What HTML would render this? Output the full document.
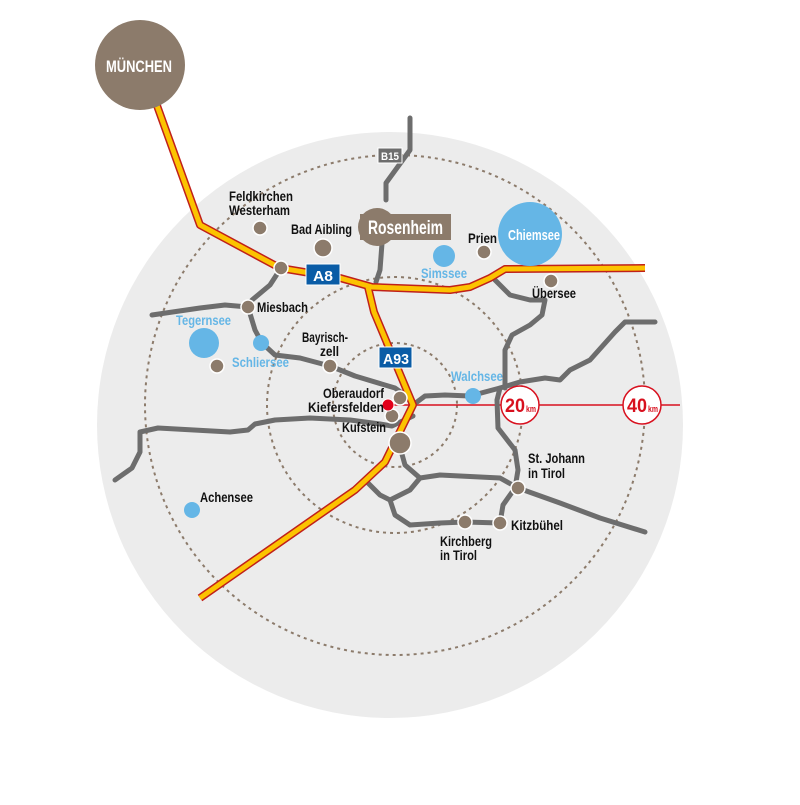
<!DOCTYPE html>
<html><head><meta charset="utf-8"><style>
html,body{margin:0;padding:0;background:#fff;}
svg text{font-family:"Liberation Sans",sans-serif;font-weight:bold;}
</style></head><body>
<svg width="800" height="800" viewBox="0 0 800 800" xmlns="http://www.w3.org/2000/svg">
<circle cx="390" cy="425" r="293" fill="#ececec"/>
<g fill="none" stroke="#8c7b6b" stroke-width="2" stroke-dasharray="3,4">
<circle cx="395" cy="405" r="62"/>
<circle cx="395" cy="405" r="128"/>
<circle cx="395" cy="405" r="250"/>
</g>
<line x1="388" y1="405" x2="680" y2="405" stroke="#d8101e" stroke-width="1.5"/>
<g fill="none" stroke="#6d6d6d" stroke-width="5" stroke-linejoin="round" stroke-linecap="round">
<path d="M410 118 L410 150 L386 183 L386 200"/>
<path d="M383 230 L380 270 L376 282"/>
<path d="M281 268 L270 285 L252 300 L248 307 L255 330 L262 343 L275 355 L300 358 L330 366 L355 376 L395 388 L412 400"/>
<path d="M248 307 L225 305 L200 308 L152 315"/>
<path d="M115 480 L132 468 L140 452 L140 432 L158 428 L230 432 L248 430 L255 424 L275 420 L310 418 L350 420 L380 424 L392 426 L413 416"/>
<path d="M413 405 L425 396 L445 395 L470 396 L500 388 L520 382 L545 378 L560 380 L570 370 L590 360 L615 332 L625 322 L655 322"/>
<path d="M500 388 L497 400 L498 428 L515 450 L518 470 L515 488 L503 505 L500 523"/>
<path d="M398 440 L405 465 L420 478 L440 475 L500 478 L518 488 L560 503 L600 518 L645 532"/>
<path d="M365 480 L380 495 L390 500 L410 490 L420 478"/>
<path d="M390 500 L395 515 L410 525 L440 523 L465 522 L500 523"/>
<path d="M495 280 L510 295 L530 300 L545 300 L542 315 L530 325 L512 335 L505 350 L505 388"/>
</g>
<g fill="none" stroke-linejoin="round">
<path d="M155 100 L200 225 L280 268 L340 278 L372 287 L450 290 L470 287 L490 278 L505 269 L645 268" stroke="#c0201a" stroke-width="8"/>
<path d="M368 287 L374 312 L413 405 L385 462 L355 490 L200 598" stroke="#c0201a" stroke-width="8"/>
<path d="M155 100 L200 225 L280 268 L340 278 L372 287 L450 290 L470 287 L490 278 L505 269 L645 268" stroke="#fcc300" stroke-width="5"/>
<path d="M368 287 L374 312 L413 405 L385 462 L355 490 L200 598" stroke="#fcc300" stroke-width="5"/>
</g>
<circle cx="140" cy="65" r="45" fill="#8c7b6b"/>
<text x="106" y="72" font-size="17" fill="#fff" textLength="66" lengthAdjust="spacingAndGlyphs">MÜNCHEN</text>
<rect x="306" y="264" width="34" height="21" fill="#0a5ca6" stroke="#fff"/>
<text x="313" y="281" font-size="15" fill="#fff" textLength="20" lengthAdjust="spacingAndGlyphs">A8</text>
<rect x="379" y="347" width="33" height="21" fill="#0a5ca6" stroke="#fff"/>
<text x="383" y="364" font-size="15" fill="#fff" textLength="26" lengthAdjust="spacingAndGlyphs">A93</text>
<rect x="378" y="148" width="24" height="15" fill="#6d6d6d" stroke="#fff"/>
<text x="381" y="160" font-size="11" fill="#fff" textLength="18" lengthAdjust="spacingAndGlyphs">B15</text>
<rect x="360" y="214" width="91" height="26" fill="#8c7b6b"/>
<circle cx="377" cy="227" r="19" fill="#8c7b6b"/>
<text x="368" y="234" font-size="19" fill="#fff" textLength="75" lengthAdjust="spacingAndGlyphs">Rosenheim</text>
<g fill="#65b6e6">
<circle cx="530" cy="234" r="32"/>
<circle cx="444" cy="256" r="11"/>
<circle cx="204" cy="343" r="15"/>
<circle cx="261" cy="343" r="8"/>
<circle cx="473" cy="396" r="8"/>
<circle cx="192" cy="510" r="8"/>
</g>
<text x="508" y="240" font-size="15" fill="#fff" textLength="52" lengthAdjust="spacingAndGlyphs">Chiemsee</text>
<g fill="#8c7b6b" stroke="#fff" stroke-width="1.5">
<circle cx="260" cy="228" r="7"/>
<circle cx="323" cy="248" r="9"/>
<circle cx="484" cy="252" r="7"/>
<circle cx="281" cy="268" r="7"/>
<circle cx="551" cy="281" r="7"/>
<circle cx="248" cy="307" r="7"/>
<circle cx="217" cy="366" r="7"/>
<circle cx="330" cy="366" r="7"/>
<circle cx="400" cy="398" r="7"/>
<circle cx="392" cy="416" r="7"/>
<circle cx="400" cy="443" r="11"/>
<circle cx="518" cy="488" r="7"/>
<circle cx="465" cy="522" r="7"/>
<circle cx="500" cy="523" r="7"/>
</g>
<circle cx="388" cy="405" r="6" fill="#e2001a" stroke="#fff" stroke-width="1"/>
<g fill="#fff" stroke="#d8101e" stroke-width="1.5">
<circle cx="520" cy="405" r="19"/>
<circle cx="642" cy="405" r="19"/>
</g>
<g fill="#d8101e">
<text x="505" y="412" font-size="19" textLength="20" lengthAdjust="spacingAndGlyphs">20</text>
<text x="526" y="412" font-size="9" textLength="10" lengthAdjust="spacingAndGlyphs">km</text>
<text x="627" y="412" font-size="19" textLength="20" lengthAdjust="spacingAndGlyphs">40</text>
<text x="648" y="412" font-size="9" textLength="10" lengthAdjust="spacingAndGlyphs">km</text>
</g>
<g font-size="14" fill="#111" lengthAdjust="spacingAndGlyphs">
<text x="229" y="201" textLength="64" lengthAdjust="spacingAndGlyphs">Feldkirchen</text>
<text x="229" y="215" textLength="61" lengthAdjust="spacingAndGlyphs">Westerham</text>
<text x="291" y="234" textLength="61" lengthAdjust="spacingAndGlyphs">Bad Aibling</text>
<text x="468" y="243" textLength="29" lengthAdjust="spacingAndGlyphs">Prien</text>
<text x="532" y="298" textLength="44" lengthAdjust="spacingAndGlyphs">Übersee</text>
<text x="257" y="312" textLength="51" lengthAdjust="spacingAndGlyphs">Miesbach</text>
<text x="302" y="342" textLength="46" lengthAdjust="spacingAndGlyphs">Bayrisch-</text>
<text x="320" y="356" textLength="19" lengthAdjust="spacingAndGlyphs">zell</text>
<text x="323" y="398" textLength="61" lengthAdjust="spacingAndGlyphs">Oberaudorf</text>
<text x="308" y="412" textLength="76" lengthAdjust="spacingAndGlyphs">Kiefersfelden</text>
<text x="342" y="432" textLength="44" lengthAdjust="spacingAndGlyphs">Kufstein</text>
<text x="528" y="463" textLength="57" lengthAdjust="spacingAndGlyphs">St. Johann</text>
<text x="528" y="478" textLength="37" lengthAdjust="spacingAndGlyphs">in Tirol</text>
<text x="511" y="530" textLength="52" lengthAdjust="spacingAndGlyphs">Kitzbühel</text>
<text x="440" y="546" textLength="52" lengthAdjust="spacingAndGlyphs">Kirchberg</text>
<text x="440" y="560" textLength="37" lengthAdjust="spacingAndGlyphs">in Tirol</text>
<text x="200" y="502" textLength="53" lengthAdjust="spacingAndGlyphs">Achensee</text>
</g>
<g font-size="14" fill="#65b6e6">
<text x="421" y="278" textLength="46" lengthAdjust="spacingAndGlyphs">Simssee</text>
<text x="176" y="325" textLength="55" lengthAdjust="spacingAndGlyphs">Tegernsee</text>
<text x="232" y="367" textLength="57" lengthAdjust="spacingAndGlyphs">Schliersee</text>
<text x="451" y="381" textLength="52" lengthAdjust="spacingAndGlyphs">Walchsee</text>
</g>
</svg>
</body></html>
